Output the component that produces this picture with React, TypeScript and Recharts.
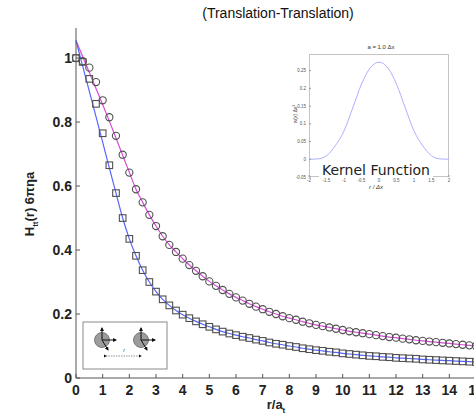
import { LineChart, Line, XAxis, YAxis } from "recharts";

// r / a_t sample positions (shared by every series)
const rValues = [
  0, 0.25, 0.5, 0.75, 1, 1.25, 1.5, 1.75, 2, 2.25, 2.5, 2.75, 3, 3.25, 3.5, 3.75,
  4, 4.25, 4.5, 4.75, 5, 5.25, 5.5, 5.75, 6, 6.25, 6.5, 6.75, 7, 7.25, 7.5, 7.75,
  8, 8.25, 8.5, 8.75, 9, 9.25, 9.5, 9.75, 10, 10.25, 10.5, 10.75, 11, 11.25, 11.5, 11.75,
  12, 12.25, 12.5, 12.75, 13, 13.25, 13.5, 13.75, 14, 14.25, 14.5, 14.75, 15,
];

// circles (parallel component) and the magenta curve through them
const circleValues = [
  1.0, 0.99, 0.97, 0.925, 0.868, 0.815, 0.757, 0.698, 0.642, 0.59, 0.549, 0.51, 0.475, 0.443, 0.416, 0.394,
  0.373, 0.353, 0.335, 0.318, 0.302, 0.288, 0.275, 0.263, 0.252, 0.242, 0.232, 0.223, 0.215, 0.207, 0.2, 0.193,
  0.187, 0.182, 0.176, 0.171, 0.166, 0.162, 0.158, 0.154, 0.15, 0.146, 0.143, 0.14, 0.137, 0.134, 0.131, 0.128,
  0.126, 0.123, 0.121, 0.118, 0.116, 0.114, 0.112, 0.11, 0.108, 0.106, 0.104, 0.102, 0.1,
];
const circleCurve = [
  1.055, 1.005, 0.955, 0.905, 0.855, 0.803, 0.75, 0.696, 0.643, 0.59, 0.549, 0.51, 0.475, 0.443, 0.416, 0.394,
  0.373, 0.353, 0.335, 0.318, 0.302, 0.288, 0.275, 0.263, 0.252, 0.242, 0.232, 0.223, 0.215, 0.207, 0.2, 0.193,
  0.187, 0.182, 0.176, 0.171, 0.166, 0.162, 0.158, 0.154, 0.15, 0.146, 0.143, 0.14, 0.137, 0.134, 0.131, 0.128,
  0.126, 0.123, 0.121, 0.118, 0.116, 0.114, 0.112, 0.11, 0.108, 0.106, 0.104, 0.102, 0.1,
];

// squares (perpendicular component) and the blue curve through them
const squareValues = [
  1.0, 0.988, 0.935, 0.857, 0.765, 0.665, 0.578, 0.5, 0.435, 0.382, 0.337, 0.3, 0.27, 0.246, 0.227, 0.211,
  0.198, 0.187, 0.177, 0.168, 0.16, 0.152, 0.145, 0.139, 0.134, 0.129, 0.125, 0.12, 0.116, 0.111, 0.107, 0.104,
  0.1, 0.097, 0.093, 0.09, 0.087, 0.085, 0.082, 0.08, 0.077, 0.075, 0.073, 0.071, 0.069, 0.068, 0.066, 0.065,
  0.063, 0.062, 0.061, 0.06, 0.058, 0.057, 0.056, 0.055, 0.054, 0.053, 0.052, 0.051, 0.05,
];
const squareCurve = [
  1.055, 0.975, 0.896, 0.817, 0.737, 0.657, 0.578, 0.5, 0.435, 0.382, 0.337, 0.3, 0.27, 0.246, 0.227, 0.211,
  0.198, 0.187, 0.177, 0.168, 0.16, 0.152, 0.145, 0.139, 0.134, 0.129, 0.125, 0.12, 0.116, 0.111, 0.107, 0.104,
  0.1, 0.097, 0.093, 0.09, 0.087, 0.085, 0.082, 0.08, 0.077, 0.075, 0.073, 0.071, 0.069, 0.068, 0.066, 0.065,
  0.063, 0.062, 0.061, 0.06, 0.058, 0.057, 0.056, 0.055, 0.054, 0.053, 0.052, 0.051, 0.05,
];

const xTicks = [0, 1, 2, 3, 4, 5, 6, 7, 8, 9, 10, 11, 12, 13, 14, 15];
const yTicks = [0, 0.2, 0.4, 0.6, 0.8, 1];

// inset: kernel function
const kernelX = [-2, -1.75, -1.5, -1.25, -1, -0.75, -0.5, -0.25, 0, 0.25, 0.5, 0.75, 1, 1.25, 1.5, 1.75, 2];
const kernelW = [0, 0.001, 0.01, 0.038, 0.08, 0.145, 0.212, 0.258, 0.274, 0.258, 0.212, 0.145, 0.08, 0.038, 0.01, 0.001, 0];
const kernelXTicks = [-2, -1.5, -1, -0.5, 0, 0.5, 1, 1.5, 2];
const kernelYTicks = [-0.05, 0, 0.05, 0.1, 0.15, 0.2, 0.25];

const mainData = rValues.map((r, i) => ({
  r,
  circle: circleValues[i],
  circleFit: circleCurve[i],
  square: squareValues[i],
  squareFit: squareCurve[i],
}));
const kernelData = kernelX.map((x, i) => ({ x, w: kernelW[i] }));

const FONT = '"Liberation Sans", Arial, Helvetica, sans-serif';
const AXIS = "#555";
const MARK = "#505050";

const circleDot = (p: any) => (
  <circle key={`c-${p.index}`} cx={p.cx} cy={p.cy} r={3.6} fill="none" stroke={MARK} strokeWidth={1.1} />
);
const squareDot = (p: any) => (
  <rect key={`s-${p.index}`} x={p.cx - 3.3} y={p.cy - 3.3} width={6.6} height={6.6} fill="none" stroke={MARK} strokeWidth={1.1} />
);

const tickStyle = { fontSize: 14, fontWeight: "bold", fill: "#222" };
const tinyTick = { fontSize: 4.5, fill: "#555" };

const Label = ({ x, y, children, style }: any) => (
  <div
    style={{
      position: "absolute",
      left: x,
      top: y,
      transform: "translate(-50%, -50%)",
      whiteSpace: "nowrap",
      ...style,
    }}
  >
    {children}
  </div>
);

const PairSketch = () => (
  <svg width={474} height={417} style={{ position: "absolute", left: 0, top: 0, pointerEvents: "none" }}>
    <defs>
      <marker id="ah" markerWidth="4" markerHeight="4" refX="3" refY="2" orient="auto">
        <path d="M0,0 L4,2 L0,4 z" fill="#111" />
      </marker>
    </defs>
    <rect x={83} y={322} width={84} height={47} fill="#fff" stroke="#8a8a8a" strokeWidth={1} />
    {[102, 141].map((cx) => (
      <g key={cx}>
        <circle cx={cx} cy={340} r={7.5} fill="#9c9c9c" stroke="#666" strokeWidth={0.8} />
        <line x1={cx} y1={340} x2={cx} y2={328} stroke="#111" strokeWidth={1} markerEnd="url(#ah)" />
        <line x1={cx} y1={340} x2={cx + 14} y2={340} stroke="#111" strokeWidth={1} markerEnd="url(#ah)" />
        <line x1={cx} y1={340} x2={cx + 6} y2={350} stroke="#111" strokeWidth={1} markerEnd="url(#ah)" />
      </g>
    ))}
    <line x1={106} y1={356} x2={141} y2={356} stroke="#777" strokeWidth={0.8} strokeDasharray="1.5 1"
      markerStart="url(#ah)" markerEnd="url(#ah)" />
    <text x={124} y={352} fontSize={5} fontStyle="italic" fill="#333" textAnchor="middle">r</text>
  </svg>
);

const KernelInset = () => (
  <div style={{ position: "absolute", left: 270, top: 38, width: 190, height: 161 }}>
    <div style={{ position: "absolute", left: 39, top: 16, width: 140, height: 123, border: "1px solid #c4c4c4", boxSizing: "border-box", background: "#fff" }} />
    <LineChart width={190} height={161} data={kernelData} margin={{ top: 16, right: 11, left: 0, bottom: 0 }}>
      <XAxis dataKey="x" type="number" domain={[-2, 2]} ticks={kernelXTicks} tick={tinyTick}
        axisLine={false} tickSize={-2} tickMargin={4} height={22} stroke="#999" />
      <YAxis type="number" domain={[-0.05, 0.297]} ticks={kernelYTicks} tick={tinyTick}
        axisLine={false} tickSize={-2} tickMargin={5} width={39} stroke="#999" />
      <Line dataKey="w" type="monotone" stroke="#aeb0ff" strokeWidth={1} dot={false} isAnimationActive={false} />
    </LineChart>
    <Label x={111} y={9} style={{ fontSize: 6, color: "#333" }}>a = 1.0 Δx</Label>
    <Label x={106} y={149} style={{ fontSize: 6, color: "#333", fontStyle: "italic" }}>r / Δx</Label>
    <Label x={25} y={76} style={{ fontSize: 5, color: "#333", transform: "translate(-50%, -50%) rotate(-90deg)" }}>
      w(x) Δx<sup style={{ fontSize: 3.5 }}>3</sup>
    </Label>
    <Label x={106} y={132} style={{ fontSize: 14, color: "#222", fontFamily: '"DejaVu Sans", sans-serif', background: "#fff", padding: "0 3px", lineHeight: "15px" }}>
      Kernel Function
    </Label>
  </div>
);

export default function App() {
  return (
    <div style={{ position: "absolute", left: 0, top: 0, width: 474, height: 417, overflow: "hidden", background: "#fff", fontFamily: FONT }}>
      <LineChart width={490} height={417} data={mainData} margin={{ top: 28, right: 14, left: 0, bottom: 0 }}>
        <XAxis dataKey="r" type="number" domain={[0, 15]} ticks={xTicks} tick={tickStyle}
          axisLine={{ stroke: AXIS }} tickLine={{ stroke: AXIS }} tickSize={-4} tickMargin={11} height={39} interval={0} />
        <XAxis xAxisId="top" orientation="top" mirror type="number" domain={[0, 15]} ticks={xTicks}
          tick={false} axisLine={{ stroke: AXIS }} tickLine={{ stroke: AXIS }} tickSize={4} height={0} />
        <YAxis type="number" domain={[0, 1.094]} ticks={yTicks} tick={tickStyle}
          axisLine={{ stroke: AXIS }} tickLine={{ stroke: AXIS }} tickSize={-4} tickMargin={8} width={76} interval={0} />
        <YAxis yAxisId="right" orientation="right" mirror type="number" domain={[0, 1.094]} ticks={yTicks}
          tick={false} axisLine={{ stroke: AXIS }} tickLine={{ stroke: AXIS }} tickSize={4} width={0} />
        <Line dataKey="circleFit" type="monotone" stroke="#d84bd8" strokeWidth={1.2} dot={false} isAnimationActive={false} />
        <Line dataKey="squareFit" type="monotone" stroke="#5566ff" strokeWidth={1.2} dot={false} isAnimationActive={false} />
        <Line dataKey="circle" stroke="none" dot={circleDot} activeDot={false} isAnimationActive={false} />
        <Line dataKey="square" stroke="none" dot={squareDot} activeDot={false} isAnimationActive={false} />
      </LineChart>
      <KernelInset />
      <PairSketch />
      <Label x={278} y={13} style={{ fontSize: 14, color: "#111" }}>(Translation-Translation)</Label>
      <Label x={276} y={406} style={{ fontSize: 13, fontWeight: "bold", color: "#222" }}>
        r/a<sub style={{ fontSize: 8 }}>t</sub>
      </Label>
      <Label x={31} y={204} style={{ fontSize: 13, fontWeight: "bold", color: "#222", transform: "translate(-50%, -50%) rotate(-90deg)" }}>
        H<sub style={{ fontSize: 8 }}>tt</sub>(r) 6πηa
      </Label>
    </div>
  );
}
